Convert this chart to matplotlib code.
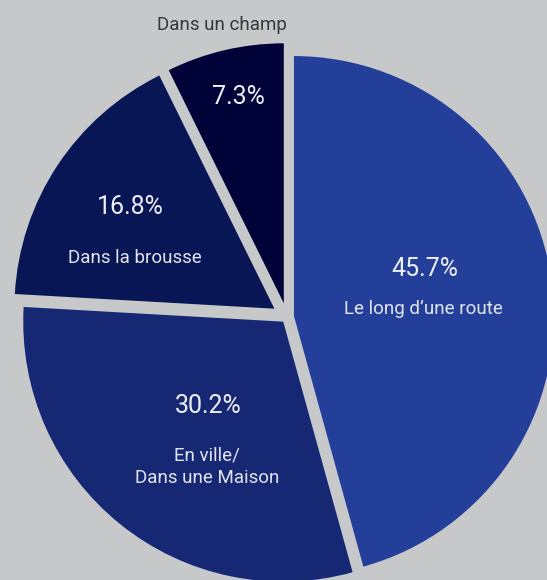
import matplotlib
matplotlib.use("Agg")
import matplotlib.pyplot as plt
from matplotlib import font_manager

# ---- data ----
categories = ["Le long d’une route", "En ville/\nDans une Maison", "Dans la brousse", "Dans un champ"]
values = [45.7, 30.2, 16.8, 7.3]
pct_labels = ["45.7%", "30.2%", "16.8%", "7.3%"]

# ---- style ----
colors = ["#233F99", "#162873", "#091655", "#000238"]
explode = [0.027, 0.023, 0.058, 0.054]
bg = "#C7C8CA"

names = {f.name for f in font_manager.fontManager.ttflist}
fam = [f for f in ["Roboto", "DejaVu Sans"] if f in names]

W, H = 547, 580
fig = plt.figure(figsize=(W / 100, H / 100), dpi=100, facecolor=bg)
ax = fig.add_axes([0, 0, 1, 1])
ax.set_facecolor(bg)

R = 260.0  # px per data unit
cx, cy = 287.0, 317.0  # pie centre in pixels (from top-left)

wedges, _ = ax.pie(values, colors=colors, explode=explode, startangle=90,
                   counterclock=False, radius=1.0, center=(0, 0),
                   wedgeprops=dict(linewidth=0))
ax.set_aspect("auto")
ax.set_xlim(-cx / R, (W - cx) / R)
ax.set_ylim(-(H - cy) / R, cy / R)
ax.axis("off")

def fx(px):
    return px / W

def fy(py):
    return 1 - py / H

# label placements (axes fraction, from pixel layout)
pct_pos = [(425, 269), (208, 406), (130, 207), (238, 97)]
cat_pos = [(423, 309), (207, 467), (135, 258), (222, 25)]
cat_colors = ["#E2E5EE", "#E2E5EE", "#E2E5EE", "#383838"]

for (px, py), t in zip(pct_pos, pct_labels):
    ax.text(fx(px), fy(py), t, transform=ax.transAxes, ha="center", va="center",
            fontsize=18, color="#EEF0F6", family=fam, fontweight="normal")
for (px, py), t, c in zip(cat_pos, categories, cat_colors):
    ax.text(fx(px), fy(py), t, transform=ax.transAxes, ha="center", va="center",
            fontsize=13.5, color=c, family=fam, linespacing=1.3, fontweight="normal")

fig.savefig("out.png", dpi=100, facecolor=bg)
